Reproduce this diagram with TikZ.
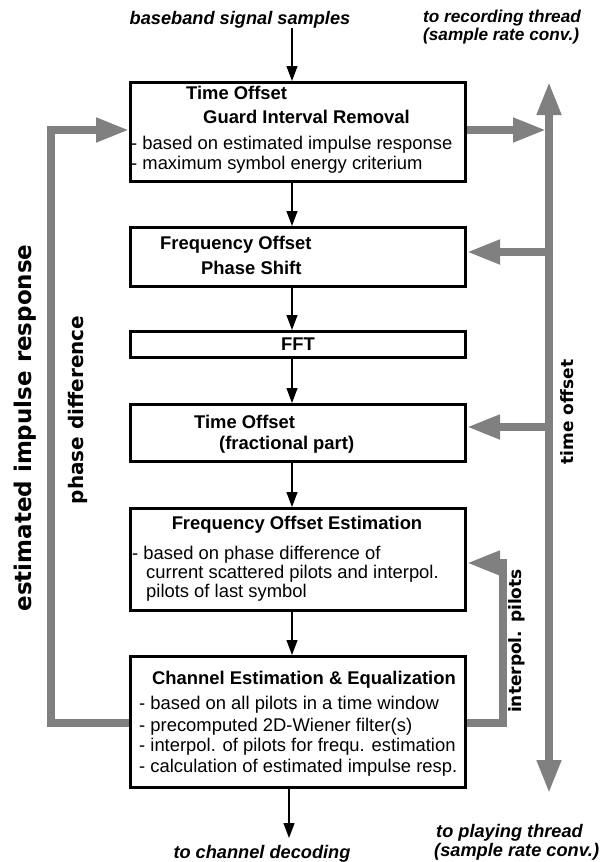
\documentclass[tikz,border=0pt]{standalone}
\usepackage{fontspec}
\setmainfont{Liberation Sans}
\newfontfamily\heavy{DejaVu Sans}
\usetikzlibrary{arrows.meta}
\definecolor{garrowc}{RGB}{128,128,128}
\pgfdeclarelayer{bg}
\pgfsetlayers{bg,main}
\begin{document}
\begin{tikzpicture}[x=1pt,y=-1pt,
  box/.style={draw, line width=3pt, minimum width=335pt, inner sep=0pt},
  txt/.style={anchor=base west, inner sep=0pt, font=\fontsize{18.4}{20}\selectfont},
  btxt/.style={txt, font=\fontsize{18.4}{20}\selectfont\bfseries},
  ital/.style={anchor=base west, inner sep=0pt, font=\fontsize{18.2}{20}\selectfont\bfseries\itshape},
  sital/.style={ital, font=\fontsize{17.2}{18}\selectfont\bfseries\itshape},
  blk/.style={line width=1.2pt, -{Triangle[length=15pt,width=11pt]}},
  gline/.style={draw=garrowc, line width=7.5pt, line join=miter},
  gtip/.style={-{Triangle[length=33pt,width=23pt]}},
  lab/.style={inner sep=0pt, rotate=90, font=\heavy\bfseries}
]
\begin{pgfonlayer}{bg}
\fill[white] (0,0) rectangle (609,862);
\end{pgfonlayer}
\path[use as bounding box] (0,0) rectangle (609,862);

% boxes
\node[box, minimum height=99pt] (b1) at (298,132) {};
\node[box, minimum height=59pt] (b2) at (298,257) {};
\node[box, minimum height=26pt, font=\fontsize{18.4}{20}\selectfont\bfseries] (b3) at (298,344.5) {FFT};
\node[box, minimum height=57pt] (b4) at (298,433) {};
\node[box, minimum height=102pt] (b5) at (298,559.5) {};
\node[box, minimum height=131pt] (b6) at (298,722) {};

% box texts
\node[btxt] (t1a) at (186,99) {Time Offset};
\node[btxt] (t1b) at (203,123) {Guard Interval Removal};
\node[txt] (t1c) at (131,149) {- based on estimated impulse response};
\node[txt] (t1d) at (131,169) {- maximum symbol energy criterium};

\node[btxt] (t2a) at (160,249) {Frequency Offset};
\node[btxt] (t2b) at (201,274) {Phase Shift};

\node[btxt] (t4a) at (194,428) {Time Offset};
\node[btxt] (t4b) at (219,449) {(fractional part)};

\node[btxt, anchor=base] (t5a) at (297,529) {Frequency Offset Estimation};
\node[txt] (t5b) at (132,559) {- based on phase difference of};
\node[txt] (t5c) at (146,578) {current scattered pilots and interpol.};
\node[txt] (t5d) at (146,597) {pilots of last symbol};

\node[btxt] (t6a) at (152,684) {Channel Estimation \& Equalization};
\node[txt] (t6b) at (139,709) {- based on all pilots in a time window};
\node[txt] (t6c) at (139,731) {- precomputed 2D-Wiener filter(s)};
\node[txt] (t6d) at (139,751) {- interpol. of pilots for frequ. estimation};
\node[txt] (t6e) at (139,772) {- calculation of estimated impulse resp.};

% outer texts
\node[ital, anchor=base] (tin) at (240,24) {baseband signal samples};
\node[sital] (trec1) at (423,23) {to recording thread};
\node[sital] (trec2) at (423,40) {(sample rate conv.)};
\node[ital, anchor=base] (tdec) at (262,858) {to channel decoding};
\node[ital] (tpl1) at (436,837) {to playing thread};
\node[ital] (tpl2) at (434,856) {(sample rate conv.)};

% black arrows
\coordinate (in) at (292,28);
\coordinate (out) at (289,838);
\draw[blk] (in) -- (in |- b1.north);
\draw[blk] ([xshift=-6pt]b1.south) -- ([xshift=-6pt]b2.north);
\draw[blk] ([xshift=-6pt]b2.south) -- ([xshift=-6pt]b3.north);
\draw[blk] ([xshift=-6pt]b3.south) -- ([xshift=-6pt]b4.north);
\draw[blk] ([xshift=-6pt]b4.south) -- ([xshift=-6pt]b5.north);
\draw[blk] ([xshift=-6pt]b5.south) -- ([xshift=-6pt]b6.north);
\draw[blk] (b6.south -| out) -- (out);

% gray arrows
\coordinate (vt) at (549,82);
\coordinate (vb) at (549,793);
\coordinate (r1) at (546,130);
\coordinate (r2) at (549,252);
\coordinate (r4) at (549,427);
\coordinate (l6) at (51,723);
\coordinate (l1) at (51,130);
\coordinate (p6) at (503,723);
\coordinate (p5) at (503,563);
\begin{pgfonlayer}{bg}
\draw[gline, {Triangle[length=33pt,width=23pt]}-{Triangle[length=33pt,width=23pt]}] (vt) -- (vb);
\draw[gline, gtip] (b1.east |- r1) -- (r1);
\draw[gline, gtip] (r2) -- (b2.east |- r2);
\draw[gline, gtip] (r4) -- (b4.east |- r4);
\draw[gline, gtip] (b6.west |- l6) -- (l6) -- (l1) -- (b1.west |- l1);
\draw[gline, gtip] (b6.east |- p6) -- (p6) -- (p5) -- (b5.east |- p5);
\end{pgfonlayer}

% rotated labels
\node[lab, font=\heavy\bfseries\fontsize{23}{23}\selectfont] (lest) at (25,428) {estimated impulse response};
\node[lab, font=\heavy\bfseries\fontsize{20}{20}\selectfont] (lph) at (78,410) {phase difference};
\node[lab, font=\heavy\bfseries\fontsize{17}{17}\selectfont] (lto) at (567,412) {time offset};
\node[lab, font=\heavy\bfseries\fontsize{17}{17}\selectfont] (lip) at (517,641) {interpol. pilots};
\end{tikzpicture}
\end{document}
